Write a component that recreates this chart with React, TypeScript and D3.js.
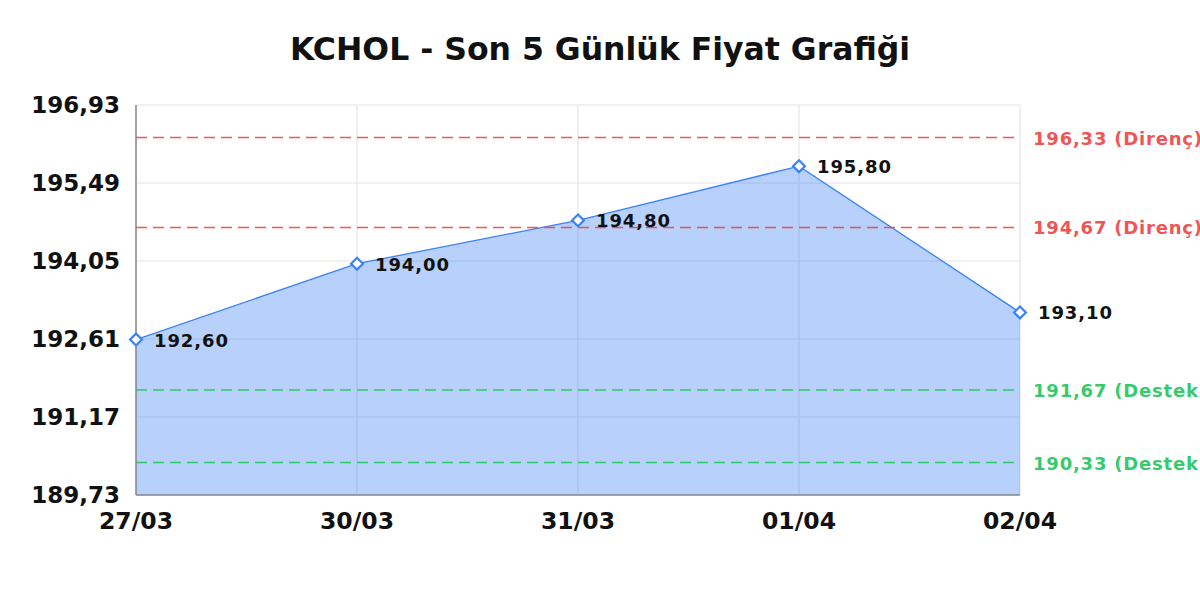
import { useEffect, useRef } from "react";
import * as d3 from "d3";

const dates = ["27/03", "30/03", "31/03", "01/04", "02/04"];
const prices = [192.6, 194.0, 194.8, 195.8, 193.1];
const yTicks = [189.73, 191.17, 192.61, 194.05, 195.49, 196.93];
const resistance = [196.33, 194.67];
const support = [191.67, 190.33];

const W = 1200;
const H = 600;
const font = "'DejaVu Sans', sans-serif";
const fmt = (v: number) => v.toFixed(2).replace(".", ",");

export default function App() {
  const ref = useRef<SVGSVGElement>(null);

  useEffect(() => {
    const svg = d3.select(ref.current);
    svg.selectAll("*").remove();
    const m = { top: 105, right: 180, bottom: 105, left: 136 };
    const width = W - m.left - m.right;
    const height = H - m.top - m.bottom;

    const x = d3.scalePoint<string>().domain(dates).range([0, width]);
    const y = d3.scaleLinear().domain([yTicks[0], yTicks[yTicks.length - 1]]).range([height, 0]);

    svg.append("rect").attr("width", W).attr("height", H).attr("fill", "#fff");

    svg.append("text")
      .attr("x", W / 2).attr("y", 60).attr("text-anchor", "middle")
      .attr("font-family", font).attr("font-weight", "bold").attr("font-size", 31.5)
      .attr("fill", "#111").text("KCHOL - Son 5 Günlük Fiyat Grafiği");

    const g = svg.append("g").attr("transform", `translate(${m.left},${m.top})`);

    // grid
    g.append("g").selectAll("line").data(yTicks).join("line")
      .attr("x1", 0).attr("x2", width).attr("y1", d => y(d)).attr("y2", d => y(d))
      .attr("stroke", "#e4e4e4").attr("stroke-width", 1.2);
    g.append("g").selectAll("line").data(dates).join("line")
      .attr("x1", d => x(d)!).attr("x2", d => x(d)!).attr("y1", 0).attr("y2", height)
      .attr("stroke", "#e4e4e4").attr("stroke-width", 1.2);

    // area + line
    const pts = dates.map((d, i) => ({ d, v: prices[i] }));
    const area = d3.area<{ d: string; v: number }>()
      .x(p => x(p.d)!).y0(height).y1(p => y(p.v));
    g.append("path").datum(pts).attr("d", area).attr("fill", "rgba(59,130,246,0.37)");
    const line = d3.line<{ d: string; v: number }>().x(p => x(p.d)!).y(p => y(p.v));
    g.append("path").datum(pts).attr("d", line).attr("fill", "none")
      .attr("stroke", "#3b82f6").attr("stroke-width", 1.3);

    // threshold lines
    const levels = [
      ...resistance.map(v => ({ v, label: `${fmt(v)} (Direnç)`, color: "#ef4444" })),
      ...support.map(v => ({ v, label: `${fmt(v)} (Destek)`, color: "#22c55e" })),
    ];
    levels.forEach(l => {
      g.append("line")
        .attr("x1", 0).attr("x2", width).attr("y1", y(l.v)).attr("y2", y(l.v))
        .attr("stroke", l.color).attr("stroke-opacity", 0.9).attr("stroke-width", 1.5)
        .attr("stroke-dasharray", "11,6");
      g.append("text")
        .attr("x", width + 13).attr("y", y(l.v) + 7)
        .attr("font-family", font).attr("font-weight", "bold").attr("font-size", 18)
        .attr("letter-spacing", 0.8)
        .attr("fill", l.color).attr("fill-opacity", 0.92).text(l.label);
    });

    // axes
    g.append("line").attr("x1", 0).attr("x2", 0).attr("y1", 0).attr("y2", height)
      .attr("stroke", "#888").attr("stroke-width", 1.5);
    g.append("line").attr("x1", 0).attr("x2", width).attr("y1", height).attr("y2", height)
      .attr("stroke", "#888").attr("stroke-width", 1.5);

    g.append("g").selectAll("text").data(yTicks).join("text")
      .attr("x", -16).attr("y", d => y(d) + 8).attr("text-anchor", "end")
      .attr("font-family", font).attr("font-weight", "bold").attr("font-size", 23)
      .attr("fill", "#111").text(d => fmt(d));
    g.append("g").selectAll("text").data(dates).join("text")
      .attr("x", d => x(d)!).attr("y", height + 34).attr("text-anchor", "middle")
      .attr("font-family", font).attr("font-weight", "bold").attr("font-size", 23.5)
      .attr("fill", "#111").text(d => d);

    // markers + value labels
    const diamond = d3.symbol().type(d3.symbolDiamond2).size(90);
    g.append("g").selectAll("path").data(pts).join("path")
      .attr("d", diamond)
      .attr("transform", p => `translate(${x(p.d)},${y(p.v)})`)
      .attr("fill", "#fff").attr("stroke", "#3b82f6").attr("stroke-width", 2.2);
    g.append("g").selectAll("text").data(pts).join("text")
      .attr("x", p => x(p.d)! + 18).attr("y", p => y(p.v) + 7)
      .attr("font-family", font).attr("font-weight", "bold").attr("font-size", 18)
      .attr("fill", "#111").attr("letter-spacing", 0.9).text(p => fmt(p.v));
  }, []);

  return <svg ref={ref} width={W} height={H} style={{ position: "absolute", left: 0, top: 0 }} />;
}
